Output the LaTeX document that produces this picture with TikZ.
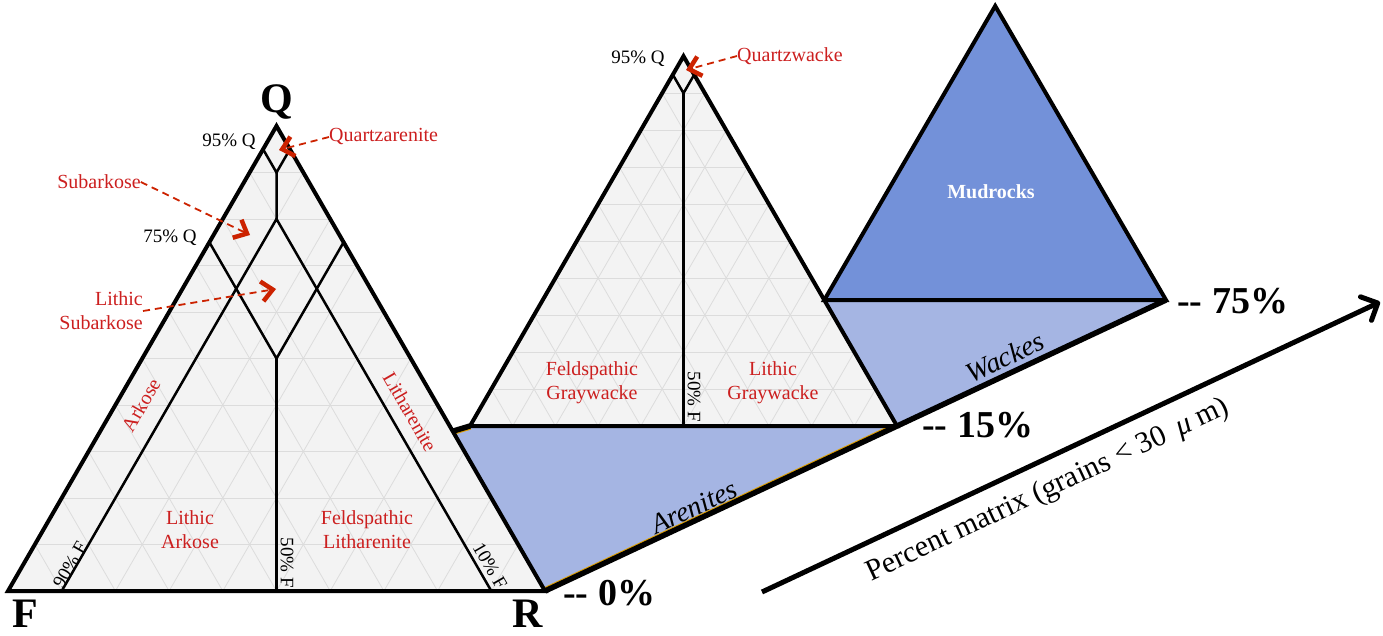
\documentclass[tikz,border=0pt]{standalone}
\usepackage{fontspec}
\setmainfont{Liberation Serif}
\usetikzlibrary{calc,arrows.meta}
\definecolor{tri}{HTML}{F3F3F3}
\definecolor{gridc}{HTML}{DCDCDC}
\definecolor{lblue}{HTML}{A5B5E3}
\definecolor{dblue}{HTML}{7391D9}
\definecolor{redl}{HTML}{CC1F1F}
\definecolor{arrred}{HTML}{CC2200}
\definecolor{edgeor}{HTML}{E0A000}
\newcommand\mytrigrid[3]{%
  \foreach \i in {1,...,9}{%
    \pgfmathsetmacro\f{\i/10}%
    \draw[gridl] ($(#1)!\f!(#3)$) -- ($(#2)!\f!(#3)$);
    \draw[gridl] ($(#1)!\f!(#2)$) -- ($(#3)!\f!(#2)$);
    \draw[gridl] ($(#1)!\f!(#2)$) -- ($(#1)!\f!(#3)$);
  }}
\begin{document}
\begin{tikzpicture}[x=1pt,y=-1pt,
  outer/.style={line width=4pt, line join=miter},
  inner/.style={line width=2.5pt},
  gridl/.style={draw=gridc, line width=0.8pt},
  redlbl/.style={text=redl, font=\fontsize{20}{24}\selectfont, align=center, inner sep=0pt},
  pct/.style={font=\fontsize{19}{22}\selectfont, inner sep=0pt},
  corner/.style={font=\fontsize{42}{46}\selectfont\bfseries, inner sep=0pt},
  level/.style={font=\fontsize{38}{41}\selectfont\bfseries, anchor=base west, inner sep=0pt},
  ital/.style={font=\fontsize{28}{32}\selectfont\itshape, inner sep=0pt, rotate=25.1},
  redarrow/.style={draw=arrred, line width=1.8pt, dash pattern=on 7pt off 5pt,
     -{Straight Barb[length=11pt,width=20pt,line width=4.5pt]}},
]
\useasboundingbox (0,0) rectangle (1383,636);
% corners
\coordinate (F) at (8,591);
\coordinate (R) at (545,591);
\coordinate (Q) at (276.5,126);
\coordinate (ML) at (470,426);
\coordinate (MR) at (897,426);
\coordinate (MQ) at (683.5,56.2);
\coordinate (RL) at (824.3,300);
\coordinate (RR) at (1166,300);
\coordinate (RQ) at (995.2,6);
\coordinate (A1) at ($(R)!0.3437!(Q)$);
\coordinate (AX0) at (762,592);
\coordinate (AX1) at (1380,302);
% fills
\fill[lblue] (A1) -- (ML) -- (MR) -- (R) -- cycle;
\fill[lblue] (MR) -- (RL) -- (RR) -- cycle;
\fill[dblue] (RL) -- (RQ) -- (RR) -- cycle;
\fill[tri] (F) -- (R) -- (Q) -- cycle;
\fill[tri] (ML) -- (MR) -- (MQ) -- cycle;
\mytrigrid{F}{R}{Q}
\mytrigrid{ML}{MR}{MQ}
% left triangle inner lines
\coordinate (M) at ($(F)!0.5!(R)$);
\coordinate (p95l) at ($(Q)!0.05!(F)$);
\coordinate (p95r) at ($(Q)!0.05!(R)$);
\coordinate (d1) at ($(Q)!0.1!(M)$);
\coordinate (c20) at ($(Q)!0.2!(M)$);
\coordinate (c50) at ($(Q)!0.5!(M)$);
\coordinate (p75l) at ($(Q)!0.25!(F)$);
\coordinate (p75r) at ($(Q)!0.25!(R)$);
\coordinate (b90) at ($(F)!0.1!(R)$);
\coordinate (b10) at ($(F)!0.9!(R)$);
\draw[inner] (p95l) -- (d1) -- (p95r);
\draw[inner] (d1) -- (c20);
\draw[inner] (b90) -- (c20) -- (b10);
\draw[inner] (p75l) -- (c50) -- (p75r);
\draw[inner] (c50) -- (M);
% middle triangle inner lines
\coordinate (MM) at ($(ML)!0.5!(MR)$);
\coordinate (q95l) at ($(MQ)!0.05!(ML)$);
\coordinate (q95r) at ($(MQ)!0.05!(MR)$);
\coordinate (d2) at ($(MQ)!0.1!(MM)$);
\draw[inner] (q95l) -- (d2) -- (q95r);
\draw[inner] (d2) -- (MM);
% orange hairline edges
\begin{scope}
  \clip (A1) -- (ML) -- (MR) -- (R) -- cycle;
  \draw[edgeor, line width=7.5pt] (A1) -- (ML);
  \draw[edgeor, line width=7.5pt] (R) -- (MR);
\end{scope}
% outlines
\draw[outer] (F) -- (R) -- (Q) -- cycle;
\draw[outer] (ML) -- (MR) -- (MQ) -- cycle;
\draw[outer] (RL) -- (RR) -- (RQ) -- cycle;
\draw[line width=5.5pt] (A1) -- (ML);
\draw[line width=5.5pt] (R) -- (RR);
\draw[line width=5pt, -{Straight Barb[length=13pt,width=26pt,line cap=round,line join=round]}] (AX0) -- (AX1);
% corner letters
\node[corner] (nQ) at (277,102) {Q};
\node[corner] (nF) at (25,614) {F};
\node[corner] (nR) at (528,614) {R};
% percentage labels left
\node[pct] (l95a) at (229,142) {95\% Q};
\node[pct] (l75a) at (170,238) {75\% Q};
\node[pct, rotate=60] (l90f) at (70,565) {90\% F};
\node[pct, rotate=-90] (l50f) at (287,563) {50\% F};
\node[pct, rotate=-60] (l10f) at (490,566) {10\% F};
% red labels left
\node[redlbl, anchor=west] (lqa) at (329,137) {Quartzarenite};
\coordinate (tqa) at (279,150);
\draw[redarrow] (lqa.west) -- (tqa);
\node[redlbl] (lsa) at (99,182) {Subarkose};
\coordinate (tsa) at (250,235);
\draw[redarrow] (lsa.east) -- (tsa);
\node[redlbl, align=right, anchor=east] (llsa) at (143,311) {Lithic\\Subarkose};
\coordinate (tlsa) at (276,289);
\draw[redarrow] (llsa.east) -- (tlsa);
\node[redlbl, rotate=60] (lark) at (141,405) {Arkose};
\node[redlbl, rotate=-60] (llit) at (410,412) {Litharenite};
\node[redlbl] (llar) at (190,530) {Lithic\\Arkose};
\node[redlbl] (lfli) at (367,530) {Feldspathic\\Litharenite};
% middle triangle labels
\node[pct] (l95b) at (638,59) {95\% Q};
\node[redlbl, anchor=west] (lqw) at (737,56) {Quartzwacke};
\coordinate (tqw) at (686,70);
\draw[redarrow] (lqw.west) -- (tqw);
\node[redlbl] (lfg) at (592,383) {Feldspathic\\Graywacke};
\node[redlbl] (llg) at (773,383) {Lithic\\Graywacke};
\node[pct, rotate=-90] (l50g) at (694,397) {50\% F};
% right
\node[font=\fontsize{20}{24}\selectfont\bfseries, text=white, inner sep=0pt] (lmud) at (991,192) {Mudrocks};
\node[ital] (lwac) at (1005,357) {Wackes};
\node[ital] (laren) at (694,507) {Arenites};
\node[level] (lv0) at (563,605) {-{}- 0\%};
\node[level] (lv15) at (922,437) {-{}- 15\%};
\node[level] (lv75) at (1177,313) {-{}- 75\%};
\node[font=\fontsize{30}{34}\selectfont, rotate=25.1, anchor=base, inner sep=0pt] (laxis) at (1051,497) {Percent matrix (grains < 30 \,\textit{μ} m)};
\end{tikzpicture}
\end{document}
